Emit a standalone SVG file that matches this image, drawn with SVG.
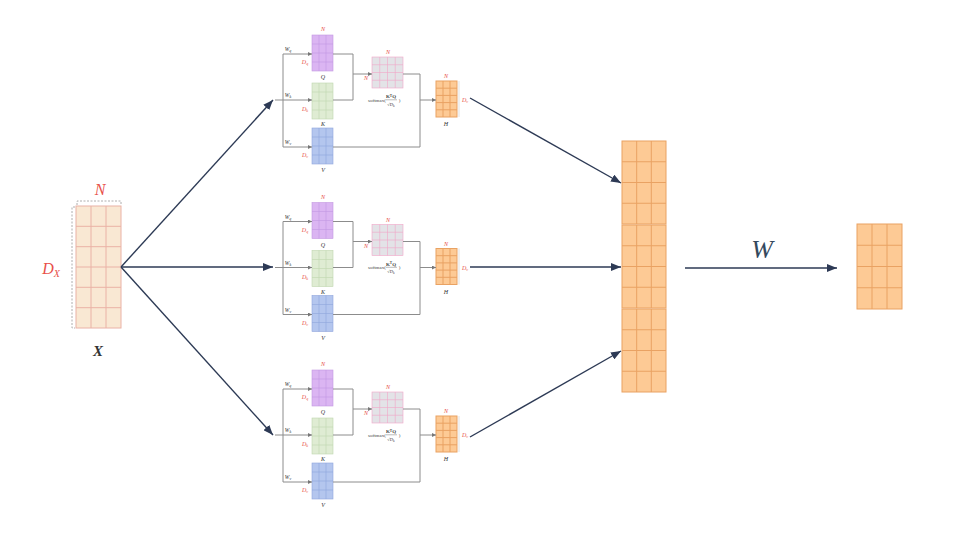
<svg xmlns="http://www.w3.org/2000/svg" width="966" height="547" viewBox="0 0 966 547">
<style>
.conn{stroke:#8c8c8c;stroke-width:1;fill:none}
.sa{marker-end:url(#sa)}
.big{stroke:#2d3a55;stroke-width:1.4;fill:none;marker-end:url(#ah)}
.r{font-family:"Liberation Serif",serif;font-style:italic;fill:#e8504a;text-anchor:middle}
.k{font-family:"Liberation Serif",serif;font-style:italic;fill:#333;text-anchor:middle}
.s6{font-size:6px}
.mX{fill:#f9e8d3;stroke:#eab2a6;stroke-width:1}
.mQ{fill:#dbb5f2;stroke:#c398e2;stroke-width:0.6}
.mK{fill:#dfecd3;stroke:#bfd6ae;stroke-width:0.6}
.mV{fill:#b4c6ee;stroke:#8fa6dc;stroke-width:0.6}
.mS{fill:#e3e3e7;stroke:#f2a6c8;stroke-width:0.6}
.mO{fill:#fdca95;stroke:#e9a263;stroke-width:1}
.dash{stroke:#999;stroke-width:0.8;stroke-dasharray:2,1.5;fill:none}
</style>
<defs>
<marker id="ah" markerUnits="userSpaceOnUse" markerWidth="10" markerHeight="8" refX="10" refY="4" orient="auto"><path d="M0,0 L10,4 L0,8 z" fill="#2d3a55"/></marker>
<marker id="sa" markerUnits="userSpaceOnUse" markerWidth="4" markerHeight="4" refX="4" refY="2" orient="auto"><path d="M0,0 L4,2 L0,4 z" fill="#777"/></marker>
<g id="headBody">
<g class="qmat"><rect class="mQ" x="312" y="35" width="21" height="36"/><path class="mQ" d="M319,35V71M326,35V71M312,44H333M312,53H333M312,62H333"/>
<text class="r s6" x="323" y="31">N</text><text class="r s6" x="305" y="64">D<tspan font-size="4" dy="1">q</tspan></text><text class="k s6" x="323" y="79">Q</text><text class="k" font-size="5.5" x="288" y="51">W<tspan font-size="4" dy="1">q</tspan></text></g>
<g class="kmat"><rect class="mK" x="312" y="83" width="21" height="36"/><path class="mK" d="M319,83V119M326,83V119M312,92H333M312,101H333M312,110H333"/>
<text class="r s6" x="305" y="111">D<tspan font-size="4" dy="1">k</tspan></text><text class="k s6" x="323" y="126">K</text><text class="k" font-size="5.5" x="288" y="97">W<tspan font-size="4" dy="1">k</tspan></text></g>
<g class="vmat"><rect class="mV" x="312" y="128" width="21" height="36"/><path class="mV" d="M319,128V164M326,128V164M312,137H333M312,146H333M312,155H333"/>
<text class="r s6" x="305" y="157">D<tspan font-size="4" dy="1">v</tspan></text><text class="k s6" x="323" y="172">V</text><text class="k" font-size="5.5" x="288" y="144">W<tspan font-size="4" dy="1">v</tspan></text></g>
<g class="smat"><rect class="mS" x="372" y="57" width="31" height="31"/><path class="mS" d="M379.75,57V88M387.5,57V88M395.25,57V88M372,64.75H403M372,72.5H403M372,80.25H403"/>
<text class="r s6" x="388" y="54">N</text><text class="r s6" x="366" y="80">N</text>
<text x="377" y="101.8" font-family="Liberation Serif,serif" font-size="5" fill="#444" text-anchor="middle">softmax(</text>
<text x="391" y="98" font-family="Liberation Serif,serif" font-size="5" font-weight="bold" fill="#444" text-anchor="middle">K<tspan font-size="3.5" dy="-1.5">T</tspan><tspan dy="1.5">Q</tspan></text>
<path d="M386,99.8H397" stroke="#555" stroke-width="0.4"/>
<text x="391" y="105.5" font-family="Liberation Serif,serif" font-size="4.5" fill="#444" text-anchor="middle">√D<tspan font-size="3.2" dy="1">k</tspan></text>
<text x="399.5" y="101.8" font-family="Liberation Serif,serif" font-size="5" fill="#444" text-anchor="middle">)</text></g>
<g class="hmat"><rect class="mO" x="436" y="81" width="21" height="36" stroke-width="0.6"/><path class="mO" stroke-width="0.6" d="M443,81V117M450,81V117M436,88.2H457M436,95.4H457M436,102.6H457M436,109.8H457"/>
<path d="M459,81V117" stroke="#ccc" stroke-width="0.6"/>
<text class="r s6" x="446" y="78">N</text><text class="r s6" x="465" y="102">D<tspan font-size="4" dy="1">v</tspan></text><text class="k s6" x="446" y="126">H</text></g>
</g>
<g id="headConn">
<path class="conn" d="M275,100H283"/>
<path class="conn" d="M283,54V147"/>
<path class="conn sa" d="M283,54H312"/>
<path class="conn sa" d="M283,100H312"/>
<path class="conn sa" d="M283,147H312"/>
<path class="conn" d="M333,54H353V100H333"/>
<path class="conn sa" d="M353,74H372"/>
<path class="conn" d="M403,74H420V147H333"/>
<path class="conn sa" d="M420,100H436"/>
</g>
</defs>
<rect width="966" height="547" fill="#ffffff"/>
<g id="inputX">
<rect class="mX" x="76" y="206" width="45" height="122"/>
<path class="mX" d="M91,206V328M106,206V328M76,226.3H121M76,246.7H121M76,267H121M76,287.3H121M76,307.7H121"/>
<path class="dash" d="M77,205V201H121V205"/>
<path class="dash" d="M75,207H72V328H75"/>
<text class="r" font-size="16" x="100" y="195">N</text>
<text class="r" font-size="16" x="51" y="274">D<tspan font-size="10" dy="3">X</tspan></text>
<text class="k" font-size="15" font-weight="bold" fill="#111" x="98" y="356">X</text>
</g>
<g id="head1"><use href="#headBody"/></g>
<g id="head2" transform="translate(0,167.5)"><use href="#headBody"/></g>
<g id="head3" transform="translate(0,335)"><use href="#headBody"/></g>
<g id="concat">
<rect class="mO" x="622" y="141" width="44" height="83"/>
<path class="mO" d="M636.7,141V224M651.3,141V224M622,161.75H666M622,182.5H666M622,203.25H666"/>
<rect class="mO" x="622" y="225" width="44" height="83"/>
<path class="mO" d="M636.7,225V308M651.3,225V308M622,245.75H666M622,266.5H666M622,287.25H666"/>
<rect class="mO" x="622" y="309" width="44" height="83"/>
<path class="mO" d="M636.7,309V392M651.3,309V392M622,329.75H666M622,350.5H666M622,371.25H666"/>
</g>
<g id="output">
<rect class="mO" x="857" y="224" width="45" height="85"/>
<path class="mO" d="M872,224V309M887,224V309M857,245.25H902M857,266.5H902M857,287.75H902"/>
</g>
<g id="connectors">
<use href="#headConn"/>
<use href="#headConn" transform="translate(0,167.5)"/>
<use href="#headConn" transform="translate(0,335)"/>
<path class="big" d="M121,267L273,100"/>
<path class="big" d="M121,267L273,267"/>
<path class="big" d="M121,267L273,435"/>
<path class="big" d="M470,98L621,183"/>
<path class="big" d="M470,267L621,267"/>
<path class="big" d="M470,437L621,351"/>
<path class="big" d="M685,268L837,268"/>
<text x="762" y="258" font-family="Liberation Serif,serif" font-style="italic" font-size="26" fill="#34495e" text-anchor="middle">W</text>
</g>
</svg>
